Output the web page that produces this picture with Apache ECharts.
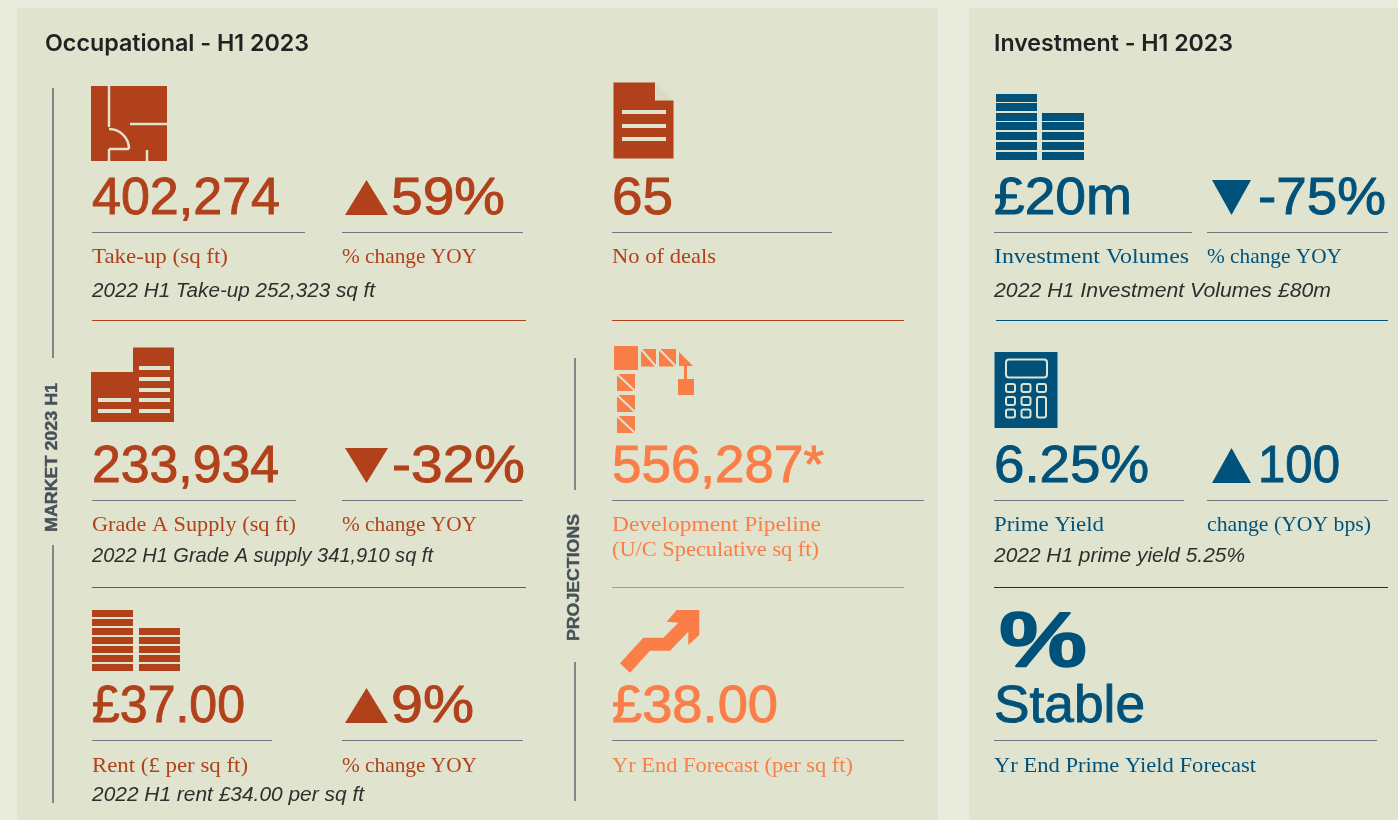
<!DOCTYPE html>
<html lang="en">
<head>
    <meta charset="UTF-8">
    <title>Market H1 2023</title>
    <script src="https://cdn.jsdelivr.net/npm/echarts@6/dist/echarts.min.js"></script>
    <style>
        html,body{margin:0;padding:0;background:#e9ebdc;}
    </style>
</head>
<body>
    <div id="main" style="width:1398px;height:820px;"></div>
    <script>
        // values
        var panelTitles=['Occupational - H1 2023','Investment - H1 2023']
        var sideLabels=['MARKET 2023 H1','PROJECTIONS']
        var occupationalValues=['402,274','233,934','£37.00']
        var occupationalLabels=['Take-up (sq ft)','Grade A Supply (sq ft)','Rent (£ per sq ft)']
        var occupationalChange=['59%','-32%','9%']
        var occupationalDirection=['up','down','up']
        var occupationalNotes=['2022 H1 Take-up 252,323 sq ft','2022 H1 Grade A supply 341,910 sq ft','2022 H1 rent £34.00 per sq ft']
        var changeLabel='% change YOY'
        var middleValues=['65','556,287*','£38.00']
        var middleLabels=['No of deals','Development Pipeline','(U/C Speculative sq ft)','Yr End Forecast (per sq ft)']
        var investmentValues=['£20m','6.25%','Stable']
        var investmentLabels=['Investment Volumes','Prime Yield','Yr End Prime Yield Forecast']
        var investmentChange=['-75%','100']
        var investmentDirection=['down','up']
        var investmentChangeLabels=['% change YOY','change (YOY bps)']
        var investmentNotes=['2022 H1 Investment Volumes £80m','2022 H1 prime yield 5.25%']

        var RED='#b0411a',ORANGE='#f97e47',BLUE='#01527a',GREY='#6f7780',BG='#e0e3ce',DARK='#2e2e2e'
        var baselines=[215,483,723]
        var ruleY=[232.5,500.5,740.5]
        var labelY=[263,531,772]
        var noteY=[297,562,801]

        var els=[]
        var measure=document.createElement('canvas').getContext('2d')
        function rect(x,y,w,h,fill,r){
            els.push({type:'rect',silent:true,shape:{x:x,y:y,width:w,height:h,r:r||0},style:{fill:fill}})
        }
        function outline(x,y,w,h,r){
            els.push({type:'rect',silent:true,shape:{x:x,y:y,width:w,height:h,r:r},style:{fill:null,stroke:BG,lineWidth:2}})
        }
        function line(x1,y1,x2,y2,color,w){
            els.push({type:'line',silent:true,shape:{x1:x1,y1:y1,x2:x2,y2:y2},style:{stroke:color,lineWidth:w||1}})
        }
        function poly(points,fill){
            els.push({type:'polygon',silent:true,shape:{points:points},style:{fill:fill}})
        }
        // width is the width the string has in the picture, the text gets squeezed to it
        function text(x,base,str,font,size,fill,width,k,bold){
            var f=font.replace('$',size+'px')
            measure.font=f
            var sx=width?width/measure.measureText(str).width:1
            var style={x:0,y:0,text:str,fill:fill,font:f,verticalAlign:'middle',align:'left'}
            if(bold){ style.stroke=fill; style.lineWidth=bold }
            els.push({type:'text',silent:true,x:x,y:base-size*k,scaleX:sx,style:style})
        }
        var BIG='$ "Liberation Sans"',SERIF='$ "Liberation Serif"',NOTE='italic $ "Liberation Sans"'
        function big(x,base,str,color,width){ text(x,base,str,BIG,51,color,width,0.29,0.9) }
        function label(x,base,str,color,width){ text(x,base,str,SERIF,22,color,width,0.25) }
        function note(x,base,str,width){ text(x,base,str,NOTE,20.5,DARK,width,0.29) }
        function triangle(x1,x2,base,dir,color){
            if(dir==='up') poly([[x1,base],[x2,base],[(x1+x2)/2,base-35]],color)
            else poly([[x1,base-35],[x2,base-35],[(x1+x2)/2,base]],color)
        }
        function stacks(x,w,h,ys,color){
            ys.forEach(function(y){ rect(x,y,w,h,color) })
        }

        // panels
        rect(17,8,921,812,BG)
        rect(969,8,429,812,BG)
        text(45,52,panelTitles[0],'600 $ Inter',23,'#222222',264,0.33)
        text(994,52,panelTitles[1],'600 $ Inter',23,'#222222',239,0.33)

        // side rails
        line(53,88,53,358,'#5f6a72',1.5)
        line(53,545,53,803,'#5f6a72',1.5)
        line(575,358,575,490,'#5f6a72',1.5)
        line(575,662,575,801,'#5f6a72',1.5)
        function sideText(x,y,str,width){
            var f='bold 16px "Liberation Sans"'
            measure.font=f
            els.push({type:'text',silent:true,x:x,y:y,rotation:Math.PI/2,scaleX:width/measure.measureText(str).width,
                style:{text:str,font:f,fill:'#46515a',stroke:'#46515a',lineWidth:0.4,align:'center',verticalAlign:'middle'}})
        }
        sideText(53,457.5,sideLabels[0],149)
        sideText(575,577.5,sideLabels[1],127)

        // occupational columns
        var ruleEnd=[305,296,272]
        var occValueW=[188,187,153],occChangeW=[114,133,83],occLabelW=[136,204,156],occNoteW=[283,341,272]
        occupationalValues.forEach(function(v,i){
            big(92,baselines[i],v,RED,occValueW[i])
            line(92,ruleY[i],ruleEnd[i],ruleY[i],GREY)
            label(92,labelY[i],occupationalLabels[i],RED,occLabelW[i])
            note(92,noteY[i],occupationalNotes[i],occNoteW[i])
            triangle(345,388,baselines[i],occupationalDirection[i],RED)
            big(occupationalDirection[i]==='up'?391:392,baselines[i],occupationalChange[i],RED,occChangeW[i])
            line(342,ruleY[i],523,ruleY[i],GREY)
            label(342,labelY[i],changeLabel,RED,135)
        })
        line(92,320.5,526,320.5,RED)
        line(92,587.5,526,587.5,RED)

        // middle column
        big(612,baselines[0],middleValues[0],RED,61)
        line(612,232.5,832,232.5,GREY)
        label(612,labelY[0],middleLabels[0],RED,104)
        line(612,320.5,904,320.5,RED)
        big(612,baselines[1],middleValues[1],ORANGE,212)
        line(612,500.5,924,500.5,GREY)
        label(612,labelY[1],middleLabels[1],ORANGE,209)
        label(612,556,middleLabels[2],ORANGE,207)
        line(612,587.5,904,587.5,ORANGE)
        big(612,baselines[2],middleValues[2],ORANGE,166)
        line(612,740.5,904,740.5,GREY)
        label(612,labelY[2],middleLabels[3],ORANGE,241)

        // investment column
        var invRuleEnd=[1192,1184,1377]
        var invValueW=[138,155,151],invLabelW=[195,110,262],invChangeW=[128,82],invChangeLabelW=[135,164],invNoteW=[337,251]
        investmentValues.forEach(function(v,i){
            big(994,baselines[i],v,BLUE,invValueW[i])
            line(994,ruleY[i],invRuleEnd[i],ruleY[i],GREY)
            label(994,labelY[i],investmentLabels[i],BLUE,invLabelW[i])
        })
        investmentChange.forEach(function(v,i){
            triangle(1212,1251,baselines[i],investmentDirection[i],BLUE)
            big(1258,baselines[i],v,BLUE,invChangeW[i])
            line(1207,ruleY[i],1388,ruleY[i],GREY)
            label(1207,labelY[i],investmentChangeLabels[i],BLUE,invChangeLabelW[i])
            note(994,noteY[i],investmentNotes[i],invNoteW[i])
        })
        line(996,320.5,1388,320.5,BLUE)
        line(994,587.5,1388,587.5,DARK)
        text(999,669,'%','bold $ "Liberation Sans"',78,BLUE,88,0.31,1.5)

        // icon: floor plan
        rect(91,86,76,75,RED)
        line(109,86,109,127,BG,2.5)
        els.push({type:'arc',silent:true,shape:{cx:109,cy:149,r:20,startAngle:-Math.PI/2,endAngle:0,clockwise:true},style:{stroke:BG,lineWidth:2.5,fill:null}})
        line(109,149,129,149,BG,2.5)
        line(109,149,109,161,BG,2.5)
        line(130,124,167,124,BG,2.5)
        line(147,150,147,161,BG,2.5)

        // icon: document
        poly([[613.5,82.5],[655,82.5],[655,100.5],[673.5,100.5],[673.5,158.5],[613.5,158.5]],RED)
        poly([[656,83],[673,100],[656,100]],'#d8dbc5')
        ;[110,124,137].forEach(function(y){ rect(622,y,44,4,BG) })

        // icon: buildings
        poly([[91,372],[133,372],[133,347.5],[174,347.5],[174,422],[91,422]],RED)
        ;[366,377,388,398,409].forEach(function(y){ rect(139,y,31,4,BG) })
        ;[398,409].forEach(function(y){ rect(98,y,33,4,BG) })

        // icon: crane
        function craneBlock(x,y,w,h){
            rect(x,y,w,h,ORANGE)
            line(x,y,x+w,y+h,BG,2)
        }
        rect(614,346,24,24,ORANGE)
        craneBlock(641,349,15,17.5)
        craneBlock(659,349,17,17.5)
        poly([[679,352],[693,366],[679,366]],ORANGE)
        rect(684,366,3,13,ORANGE)
        rect(678,379,16,16,ORANGE)
        craneBlock(617,374,18,17)
        craneBlock(617,395,18,17)
        craneBlock(617,416,18,17)

        // icon: rent stacks
        stacks(92,41,7,[610,619,628,637,646,655,664],RED)
        stacks(139,41,7,[628,637,646,655,664],RED)

        // icon: rising arrow
        poly([[620,663.3],[643.3,637.7],[663.3,637.7],[678.3,622.7],[666.7,621.7],[676.7,610],[699.3,610],[699.3,635],[688.3,645],[688.3,631.7],[670,650.7],[650,650.7],[630,672.7]],ORANGE)

        // icon: investment stacks
        stacks(996,41,8,[94,103,113,122,132,142,152],BLUE)
        stacks(1042,42,8,[113,122,132,142,152],BLUE)

        // icon: calculator
        rect(994.5,352,63,76,BLUE)
        outline(1006,359.5,41,18,3)
        ;[[1006,384],[1021.5,384],[1037,384],[1006,397],[1021.5,397],[1006,409.5],[1021.5,409.5]].forEach(function(p){
            outline(p[0],p[1],9,8,2)
        })
        outline(1037,397,9,20.5,2)

        var myChart=echarts.init(document.getElementById('main'))
        myChart.setOption({
            backgroundColor:'#e9ebdc',
            animation:false,
            graphic:{elements:els}
        })
    </script>
</body>
</html>
